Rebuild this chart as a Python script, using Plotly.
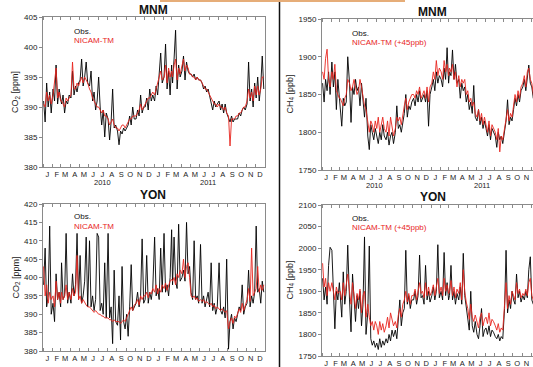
import plotly.graph_objects as go

# ---------------- data (6 samples per month, Jan 2010 - Dec 2011) ----------------
YEARS = [2010, 2011]
SAMPLE_DAYS = [3, 8, 13, 18, 23, 28]
MONTH_LETTERS = ["J", "F", "M", "A", "M", "J", "J", "A", "S", "O", "N", "D"]

mnm_co2_obs = [
    391, 387.5, 394, 390, 392.5, 389,
    393, 391, 397, 390.5, 393, 391.5,
    390.5, 392, 389, 391, 390.5, 392,
    391.5, 396, 392, 393.5, 392.5, 394,
    394.5, 398, 393.5, 395, 397.5, 394,
    393.5, 396, 391, 392.5, 389.5, 391,
    395, 390, 387, 389.5, 385, 389,
    388, 384.5, 387.5, 393, 386.5, 387,
    386, 383.7, 386, 385.5, 386.5, 386,
    386.5, 387, 388.5, 387, 390, 388,
    388, 389.5, 388.5, 392, 389, 390,
    390, 391.5, 389.5, 393, 391, 392,
    391, 393.5, 392, 395.5, 399, 394,
    395, 400.5, 393, 396, 392, 397,
    394, 398, 402.8, 393, 397, 395,
    396, 398.5, 394.5, 397.5, 396, 395.5,
    395.5, 395, 395.5, 394.5, 395, 394.5,
    394.5, 394, 393, 393.5, 392.5, 393,
    392, 391, 389.5, 391, 390, 390.5,
    391, 389.5, 390.5, 389, 390.5, 389,
    388, 387.5, 388.5, 387.5, 388, 388,
    388, 389, 388.5, 389.5, 390, 389.5,
    390.5, 397.5, 391, 393, 390, 394,
    391.5, 395, 391, 393.5, 398.5, 393,
]
mnm_co2_mod = [
    390.5, 390, 392.5, 391, 392, 390.5,
    392, 394, 396.5, 391.5, 392.5, 391,
    391, 390.5, 390, 391.5, 391, 391.5,
    392, 397.5, 393, 393, 394, 393.5,
    394.5, 395, 394, 395, 394.5, 394,
    393, 392.5, 391.5, 391, 390.5, 390,
    390, 389.5, 389, 389.5, 388.5, 388.5,
    388, 387, 387.5, 388, 387, 386.5,
    386.5, 386, 386.5, 387, 387, 386.5,
    387, 387.5, 388, 388, 388.5, 388.5,
    388.5, 389, 389.5, 390.5, 389.5, 390,
    390.5, 391, 391.5, 391.5, 392, 392.5,
    392, 393, 393.5, 395, 396, 394.5,
    395, 397, 394, 396.5, 395, 396,
    395, 397, 398, 394.5, 396.5, 395.5,
    397, 398, 396, 397, 396.5, 395.5,
    395.5, 395, 395, 394.5, 395, 394.5,
    394.5, 394, 393.5, 393, 393, 392.5,
    392, 391.5, 391, 390.5, 390.5, 390,
    390.5, 390, 390, 389.5, 390, 389,
    388.5, 383.5, 388, 388, 388, 388.5,
    388.5, 389, 389, 389.5, 390, 390,
    391, 393, 391.5, 392.5, 391, 393.5,
    392, 393.5, 392, 393, 395, 395,
]
mnm_ch4_obs = [
    1865, 1840, 1870, 1855, 1880, 1850,
    1893, 1860, 1880, 1830, 1870, 1845,
    1840, 1808, 1845, 1835, 1840, 1900,
    1865, 1813, 1860, 1850, 1870, 1855,
    1860, 1835, 1865, 1840, 1820, 1845,
    1795, 1777, 1810, 1800, 1790, 1805,
    1795, 1785, 1800, 1790, 1810, 1795,
    1790, 1800, 1783, 1795, 1800, 1785,
    1800, 1835, 1805, 1810, 1800, 1815,
    1825, 1850, 1820, 1835, 1830, 1840,
    1845, 1835, 1850, 1840, 1855, 1840,
    1845, 1850, 1840, 1855, 1808, 1850,
    1860, 1870, 1855, 1880, 1865, 1875,
    1870, 1860, 1885, 1870, 1912, 1865,
    1880, 1875, 1909, 1870, 1890, 1865,
    1870, 1845, 1865, 1855, 1860, 1840,
    1850, 1830, 1840, 1825, 1862, 1820,
    1815, 1830, 1810, 1820, 1805, 1815,
    1805, 1795, 1810, 1790, 1805, 1800,
    1795, 1780, 1800, 1790, 1795, 1785,
    1800, 1815, 1843, 1810, 1820, 1815,
    1830, 1845, 1835, 1850, 1840, 1855,
    1860, 1870, 1855, 1875, 1889, 1865,
    1860, 1845, 1855, 1840, 1850, 1845,
]
mnm_ch4_mod = [
    1880, 1870, 1898, 1910, 1870, 1860,
    1880, 1870, 1890, 1855, 1850, 1845,
    1845, 1840, 1835, 1845, 1850, 1870,
    1865, 1855, 1860, 1870, 1860, 1850,
    1855, 1870, 1860, 1845, 1835, 1830,
    1810, 1800, 1815, 1810, 1800, 1815,
    1805, 1820, 1800, 1810, 1820, 1805,
    1800, 1815, 1795, 1820, 1805, 1795,
    1805, 1820, 1815, 1820, 1810, 1825,
    1835, 1845, 1830, 1840, 1845, 1850,
    1850, 1845, 1855, 1850, 1860, 1845,
    1850, 1855, 1845, 1860, 1840, 1860,
    1865, 1880, 1870, 1895, 1875, 1885,
    1880, 1870, 1895, 1880, 1890, 1875,
    1885, 1880, 1890, 1870, 1880, 1860,
    1875, 1860, 1870, 1865, 1870, 1850,
    1855, 1840, 1845, 1835, 1840, 1825,
    1820, 1830, 1815, 1825, 1810, 1820,
    1810, 1800, 1815, 1795, 1810, 1805,
    1800, 1790, 1805, 1774, 1795, 1790,
    1805, 1820, 1830, 1815, 1825, 1820,
    1835, 1850, 1840, 1855, 1845, 1860,
    1865, 1875, 1860, 1880, 1885, 1870,
    1865, 1850, 1860, 1845, 1855, 1850,
]
yon_co2_obs = [
    398, 408, 392, 395, 414, 390,
    393, 388, 401, 394, 396, 392,
    404, 394, 395, 412, 393, 396,
    393, 401, 395, 398, 412, 394,
    406, 393, 395, 399, 411, 392,
    410, 392, 395, 391, 394, 412,
    411, 391, 393, 390, 404, 389,
    412, 389, 392, 382, 402, 388,
    387, 395, 383, 403, 388, 386,
    390, 384, 392, 403.5, 391, 392,
    393, 396, 392, 395, 410.5, 393,
    394, 406, 393, 396, 394, 397,
    411, 395, 397, 394, 408, 396,
    412, 396, 398, 395, 400, 413,
    398, 411, 399, 397, 414.5, 399,
    400, 402, 399, 415, 401, 403,
    396, 394, 410, 394, 395, 393,
    409, 393, 395, 392, 394, 396,
    392, 404, 391, 393, 390, 392,
    404, 391, 390, 392, 389, 405,
    380.5, 388, 390, 386, 389, 388,
    390, 392, 391, 398, 390, 392,
    393, 402, 392, 395, 393, 396,
    414, 396, 397, 393, 399, 396,
]
yon_co2_mod = [
    403, 395, 398, 393, 396, 394,
    395, 392, 399, 394, 396, 393,
    396, 394, 395, 398, 394, 396,
    394, 397, 395, 396, 406, 394,
    395, 393, 394, 393, 392.5, 392,
    392, 391.5, 391, 390.5, 391, 390.5,
    390, 390, 389.5, 389.5, 389, 389,
    389, 388.5, 388.5, 388, 388.5, 388,
    388, 388, 387.5, 388, 388.5, 388,
    389, 390, 391, 392, 391, 392.5,
    393, 394, 392.5, 395, 394, 395,
    395, 396, 394.5, 396, 395.5, 397,
    396, 398, 395.5, 397, 396, 398,
    397, 398.5, 396.5, 398, 399, 399.5,
    399, 400, 398, 401, 400, 402,
    401, 405, 400, 403, 404, 400,
    395, 394.5, 395, 394, 394.5, 393.5,
    394, 393.5, 394, 393, 393.5, 393,
    392.5, 393, 392, 392.5, 391.5, 392,
    391.5, 391, 391.5, 391, 390.5, 391,
    386, 388, 389, 387.5, 389.5, 389,
    390, 391.5, 390.5, 393, 391, 392.5,
    394, 397, 393.5, 408, 395, 396,
    397, 403, 396, 398, 396.5, 398,
]
yon_ch4_obs = [
    1930, 1880, 1910, 1870, 1960, 2002,
    1995, 1880, 1813, 1900, 1880, 1920,
    1890, 1840, 1945, 1870, 1900, 2007,
    1880, 1806, 1940, 1870, 1830, 1890,
    1860, 1900, 1820, 1870, 2026, 1800,
    1850, 2005, 1790, 1775, 1785, 1770,
    1780, 1765, 1790, 1770, 1785, 1775,
    1790, 1780, 1800, 1785, 1810, 1795,
    1810, 1790, 1840, 1880, 1820, 1850,
    1860, 1995, 1870, 1890, 1860, 1880,
    1880, 1900, 1870, 1890, 1984, 1885,
    1890, 1870, 1960, 1880, 1900, 1875,
    1890, 1910, 1880, 1900, 2008, 1885,
    1900, 1880, 1990, 1890, 1920, 1880,
    1890, 1960, 1880, 1900, 1870, 1895,
    1880, 1910, 1870, 1988, 1890, 1860,
    1840, 1810, 1900, 1820, 1805, 1830,
    1800, 1790, 1820, 1860, 1795, 1810,
    1815, 1800, 1820, 1795, 1810, 1805,
    1795, 1790, 1800, 1785, 1795, 1790,
    1860, 1995, 1850, 1880, 1860, 1900,
    1880, 1870, 1940, 1885, 1900, 1875,
    1890, 1880, 1900, 1885, 1950, 1980,
    1880, 1870, 1890, 1875, 1885, 1880,
]
yon_ch4_mod = [
    1965, 1910, 1930, 1890, 1920, 1900,
    1920, 1895, 1880, 1910, 1895, 1900,
    1900, 1880, 1920, 1890, 1910, 1940,
    1900, 1870, 1920, 1890, 1860, 1895,
    1880, 1905, 1850, 1890, 1900, 1840,
    1870, 1840, 1820, 1830, 1810, 1830,
    1820, 1800, 1830, 1810, 1825, 1805,
    1820, 1840, 1815, 1850, 1830, 1820,
    1830, 1815, 1845, 1860, 1840, 1870,
    1880, 1900, 1875, 1895, 1870, 1890,
    1890, 1905, 1880, 1900, 1920, 1895,
    1900, 1885, 1920, 1890, 1910, 1890,
    1900, 1915, 1890, 1910, 1930, 1895,
    1910, 1890, 1930, 1900, 1915, 1895,
    1900, 1925, 1890, 1910, 1885, 1905,
    1895, 1920, 1880, 1950, 1900, 1875,
    1860, 1835, 1870, 1840, 1830, 1845,
    1830, 1815, 1840, 1850, 1820, 1835,
    1840, 1825, 1850, 1820, 1835, 1830,
    1820, 1810, 1825, 1805, 1815, 1810,
    1870, 1920, 1860, 1890, 1870, 1900,
    1890, 1880, 1920, 1895, 1905, 1885,
    1895, 1890, 1905, 1890, 1920, 1930,
    1890, 1880, 1895, 1885, 1890, 1885,
]

dates = [f"{y}-{m:02d}-{d:02d}" for y in YEARS for m in range(1, 13) for d in SAMPLE_DAYS]
mid_months = [f"{y}-{m:02d}-15" for y in YEARS for m in range(1, 13)]
month_text = MONTH_LETTERS * len(YEARS)

W, H = 533, 367
FONT = "Liberation Sans, Arial, Helvetica, sans-serif"
TXT = "#222222"
AX = "#8a8a8a"
RED = "#e8251e"


def px(x):
    return x / W


def py(y):
    return 1 - y / H


panels = [
    dict(obs=mnm_co2_obs, mod=mnm_co2_mod, x=(43, 265), y=(17, 167), yr=[380, 405],
         xr=["2010-01-01", "2012-01-01"], mirror_y=True, title="MNM", tpos=(153, 10),
         ylab="CO<sub>2</sub> [ppm]", lx=16, leg=(72, 31.5, 40), modname="NICAM-TM",
         years=[("2010-07-14", 183), ("2011-06-27", 183)]),
    dict(obs=mnm_ch4_obs, mod=mnm_ch4_mod, x=(322, 533), y=(19, 170), yr=[1750, 1950],
         xr=["2010-01-01", "2011-12-07"], mirror_y=False, title="MNM", tpos=(432, 12),
         ylab="CH<sub>4</sub> [ppb]", lx=290, leg=(350, 33, 42), modname="NICAM-TM (+45ppb)",
         years=[("2010-06-27", 185.5), ("2011-06-20", 185.5)]),
    dict(obs=yon_co2_obs, mod=yon_co2_mod, x=(43, 265), y=(204, 351), yr=[380, 420],
         xr=["2010-01-01", "2012-01-01"], mirror_y=True, title="YON", tpos=(153, 195),
         ylab="CO<sub>2</sub> [ppm]", lx=16, leg=(72, 217, 226), modname="NICAM-TM",
         years=[("2010-07-14", 369), ("2011-06-27", 369)]),
    dict(obs=yon_ch4_obs, mod=yon_ch4_mod, x=(322, 533), y=(205, 356), yr=[1750, 2100],
         xr=["2010-01-01", "2011-12-07"], mirror_y=False, title="YON", tpos=(433, 197),
         ylab="CH<sub>4</sub> [ppb]", lx=290, leg=(350, 218, 227), modname="NICAM-TM (+45ppb)",
         years=[("2010-06-27", 372), ("2011-06-20", 372)]),
]

fig = go.Figure()
annotations = []
layout = {}
for i, p in enumerate(panels, start=1):
    sx = "" if i == 1 else str(i)
    xa, ya = "x" + sx, "y" + sx
    fig.add_trace(go.Scatter(x=dates, y=p["obs"], mode="lines", xaxis=xa, yaxis=ya,
                             line=dict(color="black", width=0.9), showlegend=False,
                             hoverinfo="skip"))
    fig.add_trace(go.Scatter(x=dates, y=p["mod"], mode="lines", xaxis=xa, yaxis=ya,
                             line=dict(color=RED, width=0.9), showlegend=False,
                             hoverinfo="skip"))
    layout["xaxis" + sx] = dict(
        domain=[px(p["x"][0]), px(p["x"][1])], anchor=ya, type="date", range=p["xr"],
        tickmode="array", tickvals=mid_months, ticktext=month_text, ticks="",
        tickangle=0, automargin=False,
        tickfont=dict(size=7.5, color=TXT, family=FONT), showgrid=False, zeroline=False,
        showline=True, linecolor=AX, linewidth=1, mirror="ticks",
        minor=dict(ticks="inside", ticklen=3, tickcolor=AX, dtick="M1",
                   tick0="2010-01-01", showgrid=False),
    )
    layout["yaxis" + sx] = dict(
        domain=[py(p["y"][1]), py(p["y"][0])], anchor=xa, range=p["yr"],
        dtick=5 if p["yr"][0] == 380 else 50, ticks="outside", ticklen=3, tickcolor=AX,
        automargin=False,
        tickfont=dict(size=8, color=TXT, family=FONT), showgrid=False, zeroline=False,
        showline=True, linecolor=AX, linewidth=1, mirror=p["mirror_y"],
    )
    annotations.append(dict(text=f"<b>{p['title']}</b>", x=px(p["tpos"][0]), y=py(p["tpos"][1]),
                            xref="paper", yref="paper", showarrow=False,
                            xanchor="center", yanchor="middle",
                            font=dict(size=12, color="#111111", family=FONT)))
    annotations.append(dict(text=p["ylab"], x=px(p["lx"]),
                            y=py((p["y"][0] + p["y"][1]) / 2), xref="paper", yref="paper",
                            showarrow=False, textangle=-90,
                            xanchor="center", yanchor="middle",
                            font=dict(size=9, color=TXT, family=FONT)))
    annotations.append(dict(text="Obs.", x=px(p["leg"][0]), y=py(p["leg"][1]), xref="paper",
                            yref="paper", xanchor="left", yanchor="middle", showarrow=False,
                            font=dict(size=8, color="#111111", family=FONT)))
    annotations.append(dict(text=p["modname"], x=px(p["leg"][0]), y=py(p["leg"][2]),
                            xref="paper", yref="paper", xanchor="left", yanchor="middle",
                            showarrow=False,
                            font=dict(size=8, color=RED, family=FONT)))
    for yd, ypix in p["years"]:
        annotations.append(dict(text=yd[:4], x=yd, y=py(ypix), xref=xa, yref="paper",
                                xanchor="center", yanchor="middle", showarrow=False,
                                font=dict(size=7.5, color=TXT, family=FONT)))

shapes = [
    dict(type="line", xref="paper", yref="paper", x0=px(279.5), x1=px(279.5), y0=0, y1=1,
         line=dict(color="#111111", width=1.5)),
    dict(type="rect", xref="paper", yref="paper", x0=px(160), x1=px(405), y0=py(2), y1=1,
         line=dict(width=0), fillcolor="#e6ad78"),
]

fig.update_layout(
    width=W, height=H, margin=dict(l=0, r=0, t=0, b=0, autoexpand=False),
    paper_bgcolor="white", plot_bgcolor="white",
    font=dict(family=FONT, color=TXT), showlegend=False,
    annotations=annotations, shapes=shapes, **layout,
)
fig.write_html(
    "out.html",
    config={"displayModeBar": False},
    post_script="document.body.style.margin='0';document.body.style.overflow='hidden';",
)
